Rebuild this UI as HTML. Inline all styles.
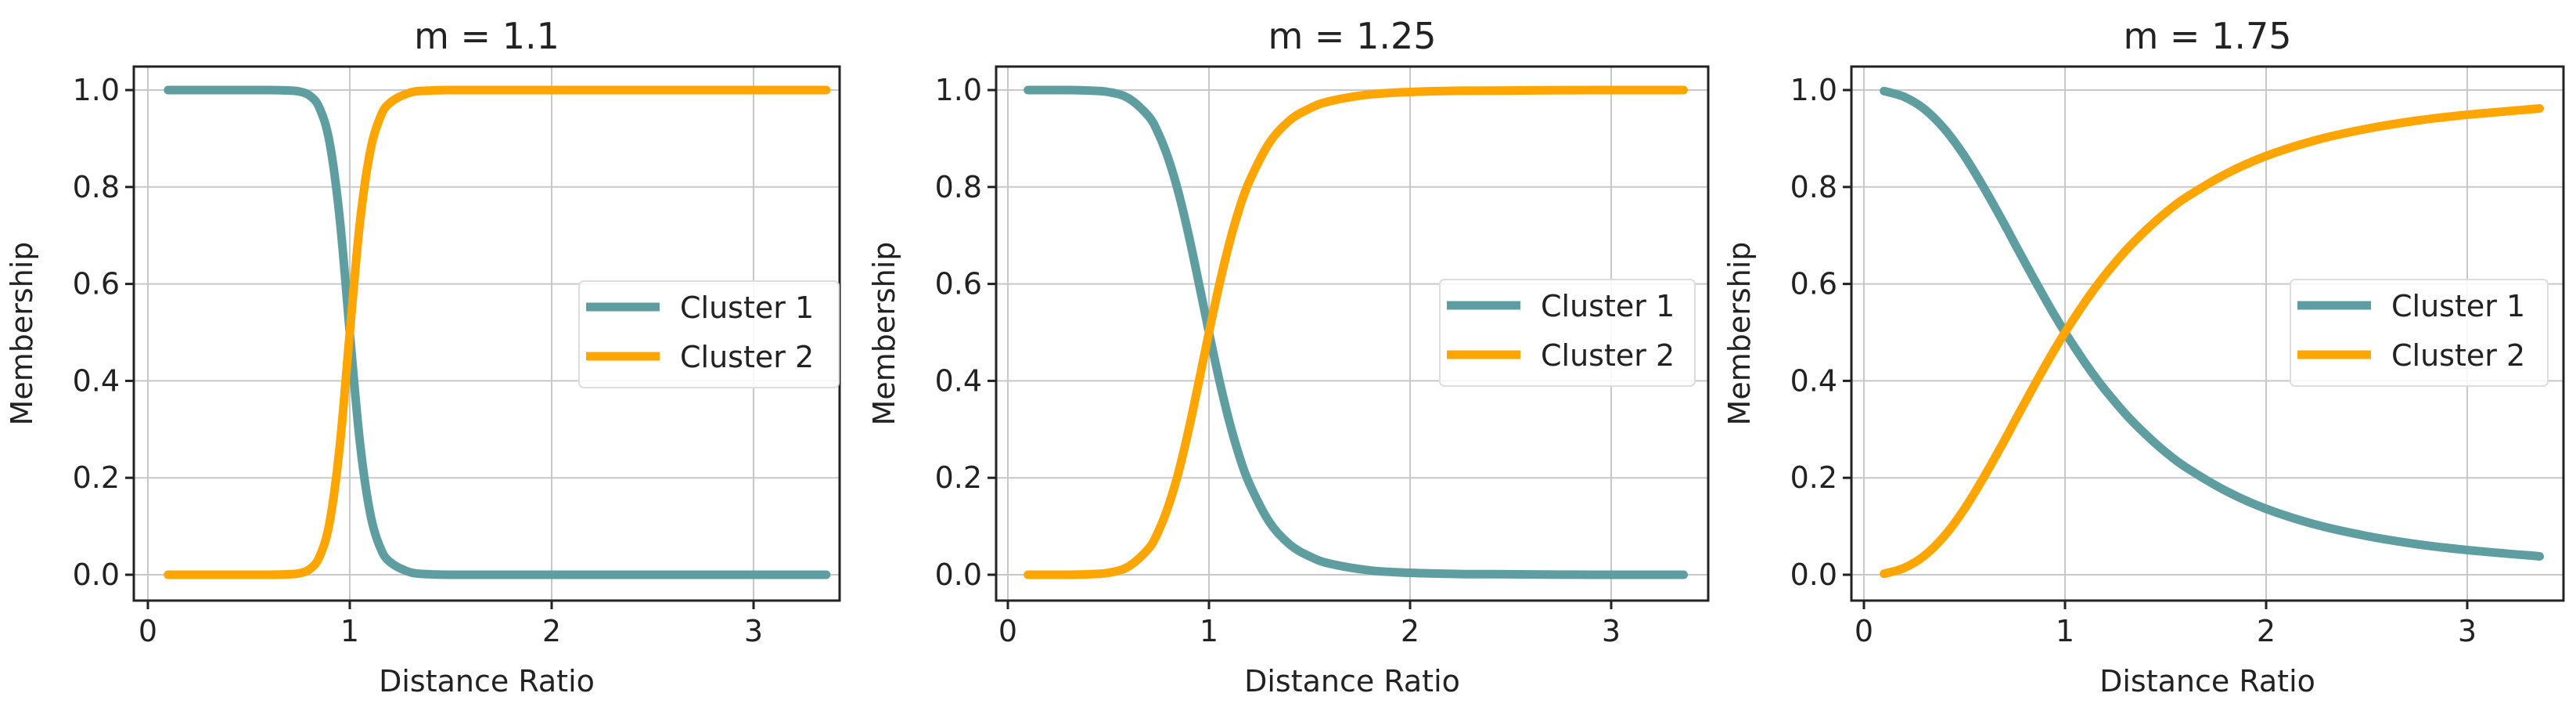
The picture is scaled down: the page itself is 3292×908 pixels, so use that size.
<!DOCTYPE html>
<html><head><meta charset="utf-8"><style>
html,body{margin:0;padding:0;background:#fff;}
svg text{font-family:"DejaVu Sans","Liberation Sans",sans-serif;fill:#222;}
</style></head><body>
<svg id="fig" width="3292" height="903" xmlns="http://www.w3.org/2000/svg"></svg>
<script>
const xs = [0.1,0.2,0.3,0.4,0.5,0.6,0.7,0.75,0.8,0.85,0.9,0.95,1.0,1.05,1.1,1.15,1.2,1.3,1.4,1.5,1.6,1.8,2.0,2.25,2.5,2.75,3.0,3.36];
const c1_m110 = [1,1,1,1,1,1,0.999,0.997,0.989,0.963,0.892,0.736,0.5,0.274,0.129,0.057,0.026,0.005,0.001,0,0,0,0,0,0,0,0,0];
const c2_m110 = [0,0,0,0,0,0,0.001,0.003,0.011,0.037,0.108,0.264,0.5,0.726,0.871,0.943,0.974,0.995,0.999,1,1,1,1,1,1,1,1,1];
const c1_m125 = [1,1,1,0.999,0.996,0.983,0.946,0.909,0.856,0.786,0.699,0.601,0.5,0.404,0.318,0.246,0.189,0.109,0.063,0.038,0.023,0.009,0.004,0.0015,0.001,0.0003,0,0];
const c2_m125 = [0,0,0,0.001,0.004,0.017,0.054,0.091,0.144,0.214,0.301,0.399,0.5,0.596,0.682,0.754,0.811,0.891,0.937,0.962,0.977,0.991,0.996,0.9985,0.999,0.9997,1,1];
const c1_m175 = [0.998,0.986,0.961,0.920,0.864,0.796,0.722,0.683,0.645,0.607,0.570,0.534,0.5,0.468,0.437,0.408,0.381,0.332,0.290,0.253,0.222,0.173,0.136,0.103,0.080,0.063,0.051,0.038];
const c2_m175 = [0.002,0.014,0.039,0.080,0.136,0.204,0.278,0.317,0.355,0.393,0.430,0.466,0.5,0.532,0.563,0.592,0.619,0.668,0.710,0.747,0.778,0.827,0.864,0.897,0.920,0.937,0.949,0.962];
const titles = ["m = 1.1","m = 1.25","m = 1.75"];
const xTicks = [0,1,2,3];
const yTicks = [0.0,0.2,0.4,0.6,0.8,1.0];
const seriesNames = ["Cluster 1","Cluster 2"];

const NS="http://www.w3.org/2000/svg";
const svg=document.getElementById('fig');
function mk(tag,attrs,parent){const e=document.createElementNS(NS,tag);for(const k in attrs)e.setAttribute(k,attrs[k]);(parent||svg).appendChild(e);return e;}
const panels=[
 {L:171,R:1073,x0:189,x1:447,leg:[740,359,332,136],c1:c1_m110,c2:c2_m110},
 {L:1273,R:2183,x0:1288,x1:1545,leg:[1840,357,326,136],c1:c1_m125,c2:c2_m125},
 {L:2366,R:3276,x0:2382,x1:2639,leg:[2927,357,329,136],c1:c1_m175,c2:c2_m175}
];
const T=85,B=767,Y1=115,Y0=734;
const colors=["#5f9ea0","#ffa500"];
panels.forEach((p,i)=>{
  const g=mk('g',{});
  
  
  const sx=v=>p.x0+(p.x1-p.x0)*v;
  const sy=v=>Y0+(Y1-Y0)*v;
  xTicks.forEach(t=>{const l=mk('line',{x1:sx(t),x2:sx(t),y1:T,y2:B,stroke:'#c8c8c8','stroke-width':2},g);
    
    });
  yTicks.forEach(t=>{const l=mk('line',{x1:p.L,x2:p.R,y1:sy(t),y2:sy(t),stroke:'#c8c8c8','stroke-width':2},g);
    
    });
  [p.c1,p.c2].forEach((vals,si)=>{
    const pts=xs.map((x,k)=>[sx(x),sy(vals[k])]);
    let d='M'+pts[0][0]+','+pts[0][1];
    for(let k=0;k<pts.length-1;k++){
      const p0=pts[Math.max(0,k-1)],p1=pts[k],p2=pts[k+1],p3=pts[Math.min(pts.length-1,k+2)];
      const c1x=p1[0]+(p2[0]-p0[0])/6,c1y=p1[1]+(p2[1]-p0[1])/6;
      const c2x=p2[0]-(p3[0]-p1[0])/6,c2y=p2[1]-(p3[1]-p1[1])/6;
      d+=` C${c1x},${c1y} ${c2x},${c2y} ${p2[0]},${p2[1]}`;
    }
    const path=mk('path',{d:d,fill:'none',stroke:colors[si],'stroke-width':11,'stroke-linecap':'round','stroke-linejoin':'round'},g);
    
    
  });
  const fr=mk('rect',{x:p.L,y:T,width:p.R-p.L,height:B-T,fill:'none',stroke:'#222','stroke-width':3},g);
  
  
  xTicks.forEach(t=>{mk('line',{x1:sx(t),x2:sx(t),y1:B,y2:B+11,stroke:'#222','stroke-width':3},g);
    const tx=mk('text',{x:sx(t),y:B+52,'font-size':38,'text-anchor':'middle'},g);tx.textContent=t;
    
    });
  yTicks.forEach(t=>{mk('line',{x1:p.L-11,x2:p.L,y1:sy(t),y2:sy(t),stroke:'#222','stroke-width':3},g);
    const tx=mk('text',{x:p.L-18,y:sy(t)+13,'font-size':38,'text-anchor':'end'},g);tx.textContent=t.toFixed(1);
    
    });
  const ti=mk('text',{x:(p.L+p.R)/2,y:62,'font-size':46,'text-anchor':'middle'},g);ti.textContent=titles[i];
  
  
  const xl=mk('text',{x:(p.L+p.R)/2,y:883,'font-size':38,'text-anchor':'middle'},g);xl.textContent='Distance Ratio';
  
  
  const yx=p.L-130,yy=(T+B)/2;
  const yl=mk('text',{x:yx,y:yy,'font-size':38,'text-anchor':'middle',transform:`rotate(-90 ${yx} ${yy})`},g);yl.textContent='Membership';
  
  
  const [lx,ly,lw,lh]=p.leg;
  const lg=mk('g',{},g);
  
  
  mk('rect',{x:lx,y:ly,width:lw,height:lh,rx:6,fill:'#fff','fill-opacity':0.85,stroke:'#ddd','stroke-width':2},lg);
  seriesNames.forEach((n,si)=>{
    const yy2=ly+33+si*63;
    const ln=mk('line',{x1:lx+9,x2:lx+103,y1:yy2,y2:yy2,stroke:colors[si],'stroke-width':11},lg);
    
    
    const t=mk('text',{x:lx+129,y:yy2+14,'font-size':38},lg);t.textContent=n;
    
    
  });
});
</script>
</body></html>
